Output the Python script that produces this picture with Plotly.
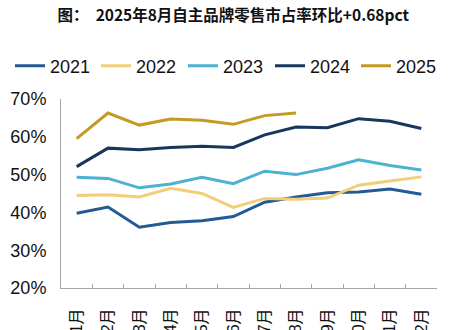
import plotly.graph_objects as go

months = ["1月", "2月", "3月", "4月", "5月", "6月", "7月", "8月", "9月", "10月", "11月", "12月"]
y2021 = [39.8, 41.4, 36.1, 37.3, 37.8, 38.9, 42.7, 44.1, 45.2, 45.4, 46.2, 44.8]
y2022 = [44.5, 44.7, 44.1, 46.4, 45.0, 41.3, 43.7, 43.5, 43.8, 47.2, 48.3, 49.4]
y2023 = [49.3, 49.0, 46.5, 47.5, 49.3, 47.6, 50.9, 50.0, 51.7, 53.9, 52.4, 51.2]
y2024 = [52.1, 57.0, 56.6, 57.2, 57.5, 57.2, 60.5, 62.6, 62.4, 64.8, 64.1, 62.2]
y2025 = [59.5, 66.3, 63.1, 64.7, 64.4, 63.3, 65.6, 66.3]

series = [
    ("2021", y2021, "#245A94"),
    ("2022", y2022, "#F0CF78"),
    ("2023", y2023, "#4DB1D0"),
    ("2024", y2024, "#17375E"),
    ("2025", y2025, "#C49A22"),
]

FONT = "Liberation Sans, Arial, Noto Sans CJK SC, sans-serif"

L, R, T, B = 61, 16, 99, 42
PW = 453 - L - R
legend_px = [10, 96, 183, 270, 356]

fig = go.Figure()
layout_legends = {}
for i, (name, vals, color) in enumerate(series):
    key = "legend" if i == 0 else f"legend{i+1}"
    fig.add_trace(go.Scatter(
        x=months[:len(vals)], y=vals, name=name, mode="lines",
        line=dict(color=color, width=3), legend=key,
    ))
    layout_legends[key] = dict(
        orientation="h", x=(legend_px[i] - L) / PW, xanchor="left",
        y=1.175, yanchor="middle",
        font=dict(family=FONT, size=18, color="#111111"),
        itemwidth=30, bgcolor="rgba(0,0,0,0)",
    )

fig.update_layout(
    width=453, height=330,
    margin=dict(l=L, r=R, t=T, b=B, autoexpand=False),
    paper_bgcolor="white", plot_bgcolor="white",
    title=dict(
        text="<b>图：  2025年8月自主品牌零售市占率环比+0.68pct</b>",
        x=0.515, xanchor="center", y=0.953, yanchor="middle",
        font=dict(family="Noto Sans CJK SC, sans-serif", size=15.5, color="#111111"),
    ),
    showlegend=True,
    **layout_legends,
)

fig.update_xaxes(
    type="category", categoryorder="array", categoryarray=months,
    range=[-0.5, 11.5],
    showline=True, linecolor="#A6A6A6", linewidth=1,
    showgrid=False, zeroline=False,
    ticks="inside", ticklen=4, tickcolor="#A6A6A6", tickson="boundaries",
    tickangle=-90, ticklabelstandoff=13,
    tickfont=dict(family=FONT, size=16, color="#111111"),
    automargin=False,
)
fig.update_yaxes(
    range=[20, 70], dtick=10, ticksuffix="%",
    showline=True, linecolor="#A6A6A6", linewidth=1,
    showgrid=False, zeroline=False, ticks="",
    tickfont=dict(family=FONT, size=18, color="#111111"),
    ticklabelstandoff=10,
    automargin=False,
)

fig.write_html("out.html")
